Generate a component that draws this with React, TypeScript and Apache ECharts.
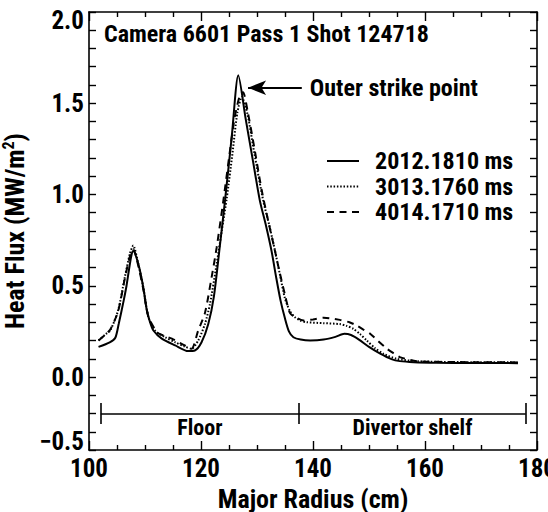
import React, { useEffect, useRef } from "react";
import * as echarts from "echarts";

const FONT = '"Roboto Condensed", "Liberation Sans", Arial, sans-serif';
const INK = "#000";

const chartTitle = "Camera 6601 Pass 1 Shot 124718";
const xAxisTitle = "Major Radius (cm)";
const seriesNames = ["2012.1810 ms", "3013.1760 ms", "4014.1710 ms"];

const radius2012 = [101.7, 103.7, 104.7, 105.3, 106.2, 106.7, 107.2, 107.6, 107.9, 108.8, 109.7, 110.3, 110.9, 111.5, 113.0, 115.4, 117.7, 118.9, 120.1, 121.3, 122.3, 123.3, 124.3, 125.5, 126.66, 128.0, 129.3, 130.5, 131.6, 132.6, 133.4, 134.2, 135.0, 135.7, 136.5, 137.8, 139.5, 141.9, 144.0, 145.6, 146.8, 148.2, 150.0, 152.0, 154.0, 155.5, 158.0, 162.0, 168.0, 176.6];
const flux2012 = [0.165, 0.19, 0.215, 0.29, 0.42, 0.5, 0.6, 0.67, 0.69, 0.62, 0.49, 0.37, 0.3, 0.255, 0.21, 0.173, 0.142, 0.145, 0.19, 0.29, 0.44, 0.7, 0.97, 1.32, 1.653, 1.41, 1.18, 0.968, 0.83, 0.69, 0.55, 0.42, 0.32, 0.25, 0.218, 0.205, 0.2, 0.205, 0.22, 0.237, 0.23, 0.205, 0.165, 0.128, 0.098, 0.087, 0.081, 0.078, 0.077, 0.076];

const radius3013 = [101.7, 103.0, 103.8, 105.2, 106.4, 107.3, 107.9, 108.8, 109.7, 110.6, 111.8, 113.6, 115.4, 117.1, 118.3, 119.5, 120.7, 121.6, 122.8, 123.7, 124.6, 125.6, 126.5, 127.3, 128.3, 129.5, 131.1, 132.2, 133.2, 134.1, 135.0, 135.9, 136.7, 137.7, 138.9, 141.9, 144.8, 146.0, 147.2, 148.4, 149.6, 151.0, 152.6, 154.9, 158.5, 165.0, 176.6];
const flux3013 = [0.2, 0.235, 0.255, 0.365, 0.547, 0.675, 0.72, 0.62, 0.49, 0.33, 0.255, 0.218, 0.19, 0.167, 0.155, 0.2, 0.29, 0.4, 0.62, 0.8, 0.98, 1.22, 1.45, 1.534, 1.44, 1.23, 0.968, 0.83, 0.694, 0.56, 0.43, 0.36, 0.33, 0.31, 0.3, 0.295, 0.29, 0.28, 0.264, 0.235, 0.2, 0.16, 0.127, 0.1, 0.087, 0.082, 0.08];

const radius4014 = [101.7, 103.0, 103.8, 105.2, 106.4, 107.3, 107.9, 108.8, 109.7, 110.6, 111.8, 112.3, 114.8, 117.1, 118.3, 119.5, 120.7, 121.9, 122.8, 124.0, 125.0, 126.0, 127.0, 127.5, 128.3, 129.5, 130.8, 131.9, 133.0, 134.0, 135.0, 135.9, 137.0, 138.3, 140.0, 141.9, 144.8, 146.5, 147.8, 149.0, 150.2, 151.7, 153.2, 154.4, 155.5, 158.5, 165.0, 176.6];
const flux4014 = [0.2, 0.235, 0.26, 0.36, 0.54, 0.66, 0.7, 0.61, 0.48, 0.33, 0.26, 0.24, 0.21, 0.173, 0.155, 0.255, 0.35, 0.547, 0.71, 0.968, 1.2, 1.42, 1.55, 1.56, 1.46, 1.26, 1.03, 0.87, 0.72, 0.58, 0.45, 0.35, 0.325, 0.31, 0.315, 0.325, 0.313, 0.3, 0.282, 0.26, 0.237, 0.195, 0.155, 0.13, 0.109, 0.087, 0.082, 0.08];

const regionEdges = [102.1, 137.5, 178.0];
const regionNames = ["Floor", "Divertor shelf"];
const bracketLevel = -0.2;
const bracketTickHalf = 0.057;

const strikeLabel = "Outer strike point";
const strikeArrowFrom = [138.0, 1.585];
const strikeArrowTo = [128.4, 1.585];

const xRange = [100, 180];
const yRange = [-0.4, 2.0];
const yBottomLabel = "\u22120.5";

const pairs = (xs: number[], ys: number[]) => xs.map((x, i) => [x, ys[i]]);

const lineTypes: any[] = ["solid", [1.5, 1.8], [7, 5.5]];
const seriesData = [pairs(radius2012, flux2012), pairs(radius3013, flux3013), pairs(radius4014, flux4014)];

export default function App() {
  const ref = useRef<HTMLDivElement>(null);
  useEffect(() => {
    if (!ref.current) return;
    const chart = echarts.init(ref.current, undefined, { renderer: "svg" });

    const axisText = { fontFamily: FONT, fontSize: 25, fontWeight: "bold", color: INK };
    const baseX = {
      type: "value",
      min: xRange[0],
      max: xRange[1],
      interval: 20,
      axisLine: { show: true, onZero: false, lineStyle: { color: INK, width: 1.6 } },
      axisTick: { show: true, inside: true, length: 9, lineStyle: { color: INK, width: 1.4 } },
      minorTick: { show: true, splitNumber: 4, length: 5, lineStyle: { color: INK, width: 1.4 } },
      splitLine: { show: false },
      minorSplitLine: { show: false },
    };
    const baseY = {
      type: "value",
      min: yRange[0],
      max: yRange[1],
      interval: 0.1,
      axisLine: { show: true, onZero: false, lineStyle: { color: INK, width: 1.6 } },
      axisTick: { show: true, inside: true, length: 7, lineStyle: { color: INK, width: 1.4 } },
      splitLine: { show: false },
    };

    const bracketLines: any[] = [];
    regionNames.forEach((name, i) => {
      bracketLines.push([
        { coord: [regionEdges[i], bracketLevel], name },
        { coord: [regionEdges[i + 1], bracketLevel] },
      ]);
    });
    regionEdges.forEach((e) => {
      bracketLines.push([
        { coord: [e, bracketLevel + bracketTickHalf], name: "", label: { show: false } },
        { coord: [e, bracketLevel - bracketTickHalf] },
      ]);
    });

    const option: any = {
      animation: false,
      textStyle: { fontFamily: FONT },
      title: {
        text: chartTitle,
        left: 104,
        top: 22,
        padding: 0,
        textStyle: { fontFamily: FONT, fontSize: 24, fontWeight: "bold", color: INK },
      },
      legend: {
        orient: "vertical",
        left: 326,
        top: 149,
        padding: 0,
        itemWidth: 32,
        itemHeight: 12,
        itemGap: 1.5,
        selectedMode: false,
        data: seriesNames,
        itemStyle: { opacity: 0, color: "transparent", borderWidth: 0 },
        textStyle: {
          fontFamily: FONT,
          fontSize: 24,
          lineHeight: 24,
          fontWeight: "bold",
          color: INK,
          padding: [0, 0, 0, 11],
        },
      },
      grid: { left: 89, right: 11, top: 12, bottom: 62, containLabel: false, outerBoundsMode: "none" },
      xAxis: [
        {
          ...baseX,
          position: "bottom",
          name: xAxisTitle,
          nameLocation: "middle",
          nameGap: 29,
          nameTextStyle: { fontFamily: FONT, fontSize: 26, fontWeight: "bold", color: INK },
          axisLabel: { ...axisText, margin: 6 },
        },
        { ...baseX, position: "top", axisLabel: { show: false } },
      ],
      yAxis: [
        {
          ...baseY,
          position: "left",
          name: "Heat Flux (MW/m{sup|2})",
          nameLocation: "middle",
          nameRotate: 90,
          nameGap: 45,
          nameTextStyle: {
            fontFamily: FONT,
            fontSize: 26,
            fontWeight: "bold",
            color: INK,
            rich: { sup: { fontFamily: FONT, fontSize: 16, fontWeight: "bold", color: INK, padding: [0, 0, 14, 0] } },
          },
          axisLabel: {
            ...axisText,
            margin: 5,
            formatter: (v: number) => {
              const r = Math.round(v * 10);
              if (r === Math.round(yRange[0] * 10)) return "{lo|" + yBottomLabel + "}";
              if (r === Math.round(yRange[1] * 10)) return "{hi|" + (r / 10).toFixed(1) + "}";
              if (r % 5 === 0) return (r / 10).toFixed(1);
              return "";
            },
            rich: {
              lo: { ...axisText, padding: [0, 0, 18, 0] },
              hi: { ...axisText, padding: [16, 0, 0, 0] },
            },
          },
        },
        { ...baseY, position: "right", axisLabel: { show: false } },
      ],
      series: [
        ...seriesNames.map((name, i) => ({
          name,
          type: "line",
          data: seriesData[i],
          smooth: 0.25,
          symbol: "none",
          lineStyle: { color: INK, width: 2, type: lineTypes[i] },
          itemStyle: { color: INK },
          z: 3 - i,
        })),
        {
          name: "bracket",
          type: "line",
          data: [],
          markLine: {
            silent: true,
            symbol: ["none", "none"],
            lineStyle: { color: INK, width: 1.6, type: "solid" },
            label: {
              show: true,
              position: "insideMiddleBottom",
              formatter: "{b}",
              distance: 3,
              fontFamily: FONT,
              fontSize: 22,
              fontWeight: "bold",
              color: INK,
            },
            emphasis: { disabled: true },
            data: bracketLines,
          },
        },
        {
          name: "strike",
          type: "line",
          data: [],
          markLine: {
            silent: true,
            symbol: ["none", "arrow"],
            symbolSize: [0, 14],
            lineStyle: { color: INK, width: 1.8, type: "solid" },
            label: {
              show: true,
              position: "start",
              formatter: strikeLabel,
              distance: 8,
              fontFamily: FONT,
              fontSize: 24,
              fontWeight: "bold",
              color: INK,
            },
            emphasis: { disabled: true },
            data: [[{ coord: strikeArrowFrom }, { coord: strikeArrowTo, symbolSize: [11, 18] }]],
          },
        },
      ],
    };
    chart.setOption(option);
    return () => chart.dispose();
  }, []);
  return (
    <div
      ref={ref}
      style={{ position: "absolute", left: 0, top: 0, width: 548, height: 512, background: "#fff" }}
    />
  );
}
